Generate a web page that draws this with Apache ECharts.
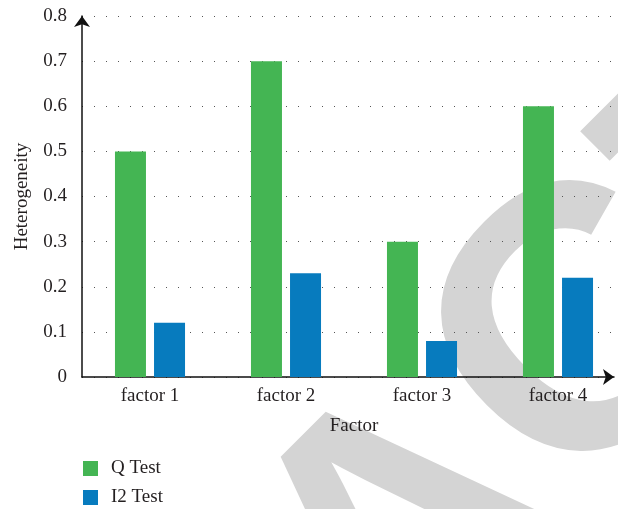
<!DOCTYPE html>
<html>
<head>
<meta charset="utf-8">
<script src="https://cdn.jsdelivr.net/npm/echarts@6/dist/echarts.min.js"></script>
<style>
  html, body { margin: 0; padding: 0; background: #fff; }
  #chart { width: 618px; height: 509px; }
</style>
</head>
<body>
<div id="chart"></div>
<script>
// Heterogeneity of each factor under the Q test and the I2 test
const categories = ['factor 1', 'factor 2', 'factor 3', 'factor 4'];
const qTest = [0.5, 0.7, 0.3, 0.6];
const i2Test = [0.12, 0.23, 0.08, 0.22];
const yTicks = [0, 0.1, 0.2, 0.3, 0.4, 0.5, 0.6, 0.7, 0.8];

const serif = '"Liberation Serif", "Times New Roman", serif';
const ink = '#231f20';

// diagonal stamp behind the plot, drawn in two runs along one rotated baseline
const stampFont = 'bold 375px "Liberation Sans", Arial, sans-serif';
const stampPart = (text, x, y) => ({
  type: 'text',
  z: -10,
  x: x,
  y: y,
  rotation: Math.PI / 4,
  silent: true,
  style: {
    text: text,
    font: stampFont,
    fill: '#d4d4d4',
    textAlign: 'left',
    textVerticalAlign: 'middle'
  }
});

const chart = echarts.init(document.getElementById('chart'), null, { renderer: 'canvas' });

chart.setOption({
  animation: false,
  backgroundColor: '#ffffff',
  textStyle: { fontFamily: serif, color: ink },
  graphic: [
    stampPart('RETRA', -405, 1361),
    stampPart('CTED', 495, 435)
  ],
  legend: {
    orient: 'vertical',
    left: 83,
    top: 459,
    padding: 0,
    itemWidth: 15,
    itemHeight: 15,
    itemGap: 10,
    icon: 'rect',
    textStyle: { fontFamily: serif, fontSize: 19, color: ink, padding: [0, 0, 0, 8] },
    data: ['Q Test', 'I2 Test']
  },
  grid: [
    { left: 82, right: -8, top: 16, bottom: 132, outerBoundsMode: 'none', containLabel: false },
    { left: 82, right: 4, top: 16, bottom: 132, outerBoundsMode: 'none', containLabel: false }
  ],
  xAxis: [{
    type: 'category',
    gridIndex: 0,
    data: categories,
    name: 'Factor',
    nameLocation: 'middle',
    nameGap: 40,
    nameTextStyle: { fontFamily: serif, fontSize: 19, color: ink },
    axisLine: { show: false },
    axisTick: { show: false },
    axisLabel: { fontFamily: serif, fontSize: 19, color: ink, margin: 10 }
  }, {
    // baseline with arrow head
    type: 'value',
    gridIndex: 1,
    min: 0,
    max: 1,
    axisLine: {
      show: true,
      symbol: ['none', 'arrow'],
      symbolSize: [12, 11],
      lineStyle: { color: '#111', width: 1.5 }
    },
    axisTick: { show: false },
    axisLabel: { show: false },
    splitLine: { show: false }
  }],
  yAxis: [{
    type: 'value',
    gridIndex: 0,
    min: yTicks[0],
    max: yTicks[yTicks.length - 1],
    interval: 0.1,
    name: 'Heterogeneity',
    nameLocation: 'middle',
    nameGap: 50,
    nameTextStyle: { fontFamily: serif, fontSize: 19, color: ink },
    axisLine: {
      show: true,
      symbol: ['none', 'arrow'],
      symbolSize: [12, 11],
      lineStyle: { color: '#111', width: 1.5 }
    },
    axisTick: { show: false },
    axisLabel: {
      fontFamily: serif,
      fontSize: 19,
      color: ink,
      margin: 15,
      formatter: v => (v === 0 ? '0' : v.toFixed(1))
    },
    splitLine: {
      show: true,
      lineStyle: { color: '#555', width: 1, type: [1, 11] }
    }
  }, {
    type: 'value',
    gridIndex: 1,
    show: false,
    min: 0,
    max: 1
  }],
  series: [{
    name: 'Q Test',
    type: 'bar',
    xAxisIndex: 0,
    yAxisIndex: 0,
    data: qTest,
    barWidth: 31,
    barGap: '26%',
    itemStyle: { color: '#44b553' }
  }, {
    name: 'I2 Test',
    type: 'bar',
    xAxisIndex: 0,
    yAxisIndex: 0,
    data: i2Test,
    barWidth: 31,
    barGap: '26%',
    itemStyle: { color: '#077bbe' }
  }]
});
</script>
</body>
</html>
